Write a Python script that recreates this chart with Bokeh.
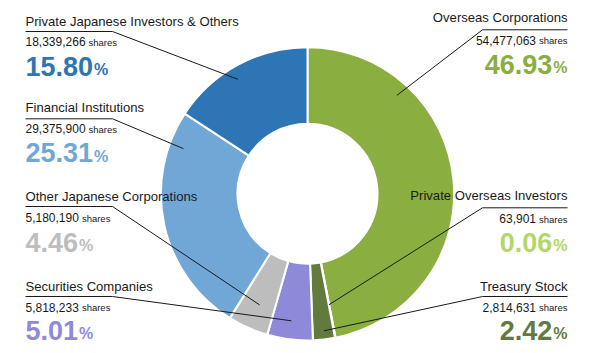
import numpy as np
from bokeh.plotting import figure
from bokeh.models import Range1d
from bokeh.core.properties import value
from bokeh.embed import file_html
from bokeh.resources import INLINE

# ---------------- data (clockwise from 12 o'clock) ----------------
categories = ["Overseas Corporations", "Private Overseas Investors", "Treasury Stock",
              "Securities Companies", "Other Japanese Corporations", "Financial Institutions",
              "Private Japanese Investors & Others"]
shares = [54477063, 63901, 2814631, 5818233, 5180190, 29375900, 18339266]
percents = [46.93, 0.06, 2.42, 5.01, 4.46, 25.31, 15.80]
slice_colors = ["#8AAE3F", "#B4D66A", "#627A3D", "#8F89D9", "#BDBDBD", "#70A7D7", "#2E75B6"]
text_colors = ["#8AAE3F", "#B4D66A", "#627A3D", "#8F89D9", "#BDBDBD", "#70A7D7", "#2E75B6"]

# ---------------- layout (pixels, y measured from top) ----------------
W, H = 596, 353
CX, CY_PX = 307.0, 193.3
R_OUT, R_IN = 146.6, 70.0
side = ["R", "R", "R", "L", "L", "L", "L"]
label_base_px = [20.7, 198.3, 289.3, 290.0, 200.0, 111.0, 25.0]
under_px = [29.3, 207.3, 296.0, 296.0, 206.0, 118.3, 31.0]
shares_base_px = [43.0, 221.7, 310.0, 310.0, 220.7, 131.7, 44.3]
pct_base_px = [72.0, 250.0, 337.7, 337.7, 250.0, 160.3, 73.5]
anchor_frac = [0.25, 0.5, 0.46, 0.52, 0.46, 0.856, 0.45]   # position inside slice
anchor_r = [133.0, 113.0, 138.0, 128.0, 121.0, 132.0, 134.0]
LEFT_X, RIGHT_X = 25.0, 567.0
UL_LEN = 85.0
BASE_SHIFT = 0.29   # renderer baseline correction (fraction of font size)

FONT = "Liberation Sans"
LABEL_SIZE, NUM_SIZE, SHARES_SIZE, PCT_SIZE, PSIGN_SIZE = 13.1, 12, 9.5, 27, 16

# Arial / Liberation metric widths (per 1000 em)
REG_W = {**{d: 556 for d in "0123456789"}, ",": 278, ".": 278, " ": 278}
BOLD_W = {**{d: 556 for d in "0123456789"}, ",": 278, ".": 278}
SHARES_W = 500 + 556 + 556 + 333 + 556 + 500


def txt_w(s, table, size):
    return sum(table[c] for c in s) * size / 1000.0


def Y(py):
    return H - py


def TY(py, size):
    return H - (py - BASE_SHIFT * size)


p = figure(width=W, height=H, x_range=Range1d(0, W), y_range=Range1d(0, H),
           output_backend="svg", toolbar_location=None, min_border=0,
           x_axis_location=None, y_axis_location=None, outline_line_color=None,
           background_fill_color="white", border_fill_color="white")
p.grid.visible = False

# ---------------- donut ----------------
tot = float(sum(percents))
frac = np.array(percents) / tot
cum_end = np.cumsum(frac)
cum_start = cum_end - frac
start_ang = np.pi / 2 - 2 * np.pi * cum_start
end_ang = np.pi / 2 - 2 * np.pi * cum_end
CY = Y(CY_PX)
p.annular_wedge(x=CX, y=CY, inner_radius=R_IN, outer_radius=R_OUT,
                start_angle=list(start_ang), end_angle=list(end_ang), direction="clock",
                fill_color=slice_colors, line_color="white", line_width=2)

# ---------------- leaders ----------------
xs, ys = [], []
for i in range(len(categories)):
    a = np.pi / 2 - 2 * np.pi * (cum_start[i] + anchor_frac[i] * frac[i])
    ax = CX + anchor_r[i] * np.cos(a)
    ay = CY + anchor_r[i] * np.sin(a)
    uy = Y(under_px[i])
    if side[i] == "L":
        x0, x1 = LEFT_X, LEFT_X + UL_LEN + 2
    else:
        x0, x1 = RIGHT_X, RIGHT_X - UL_LEN
    xs.append([x0, x1, ax])
    ys.append([uy, uy, ay])
p.multi_line(xs=xs, ys=ys, line_color="#1a1a1a", line_width=1)

# ---------------- texts ----------------
for i, cat in enumerate(categories):
    num_s = f"{shares[i]:,}"
    pct_s = f"{percents[i]:.2f}"
    sh_w = SHARES_W * SHARES_SIZE / 1000.0
    num_w = txt_w(num_s, REG_W, NUM_SIZE)
    pct_w = txt_w(pct_s, BOLD_W, PCT_SIZE)
    psign_w = 889 * PSIGN_SIZE / 1000.0
    common = dict(text_baseline="alphabetic", text_font=value(FONT))
    if side[i] == "L":
        lx = LEFT_X
        p.text(x=[lx], y=[TY(label_base_px[i], LABEL_SIZE)], text=[cat], text_align="left",
               text_font_size=f"{LABEL_SIZE}px", text_color="#1a1a1a", **common)
        p.text(x=[lx], y=[TY(shares_base_px[i], NUM_SIZE)], text=[num_s], text_align="left",
               text_font_size=f"{NUM_SIZE}px", text_color="#1a1a1a", **common)
        p.text(x=[lx + num_w + 3], y=[TY(shares_base_px[i], SHARES_SIZE)], text=["shares"],
               text_align="left", text_font_size=f"{SHARES_SIZE}px", text_color="#1a1a1a", **common)
        p.text(x=[lx], y=[TY(pct_base_px[i], PCT_SIZE)], text=[pct_s], text_align="left",
               text_font_style="bold", text_font_size=f"{PCT_SIZE}px",
               text_color=text_colors[i], **common)
        p.text(x=[lx + pct_w + 1], y=[TY(pct_base_px[i], PSIGN_SIZE)], text=["%"], text_align="left",
               text_font_style="bold", text_font_size=f"{PSIGN_SIZE}px",
               text_color=text_colors[i], **common)
    else:
        rx = RIGHT_X
        p.text(x=[rx], y=[TY(label_base_px[i], LABEL_SIZE)], text=[cat], text_align="right",
               text_font_size=f"{LABEL_SIZE}px", text_color="#1a1a1a", **common)
        p.text(x=[rx], y=[TY(shares_base_px[i], SHARES_SIZE)], text=["shares"], text_align="right",
               text_font_size=f"{SHARES_SIZE}px", text_color="#1a1a1a", **common)
        p.text(x=[rx - sh_w - 3], y=[TY(shares_base_px[i], NUM_SIZE)], text=[num_s], text_align="right",
               text_font_size=f"{NUM_SIZE}px", text_color="#1a1a1a", **common)
        p.text(x=[rx], y=[TY(pct_base_px[i], PSIGN_SIZE)], text=["%"], text_align="right",
               text_font_style="bold", text_font_size=f"{PSIGN_SIZE}px",
               text_color=text_colors[i], **common)
        p.text(x=[rx - psign_w - 1], y=[TY(pct_base_px[i], PCT_SIZE)], text=[pct_s], text_align="right",
               text_font_style="bold", text_font_size=f"{PCT_SIZE}px",
               text_color=text_colors[i], **common)

open("out.html", "w").write(file_html(p, INLINE))
